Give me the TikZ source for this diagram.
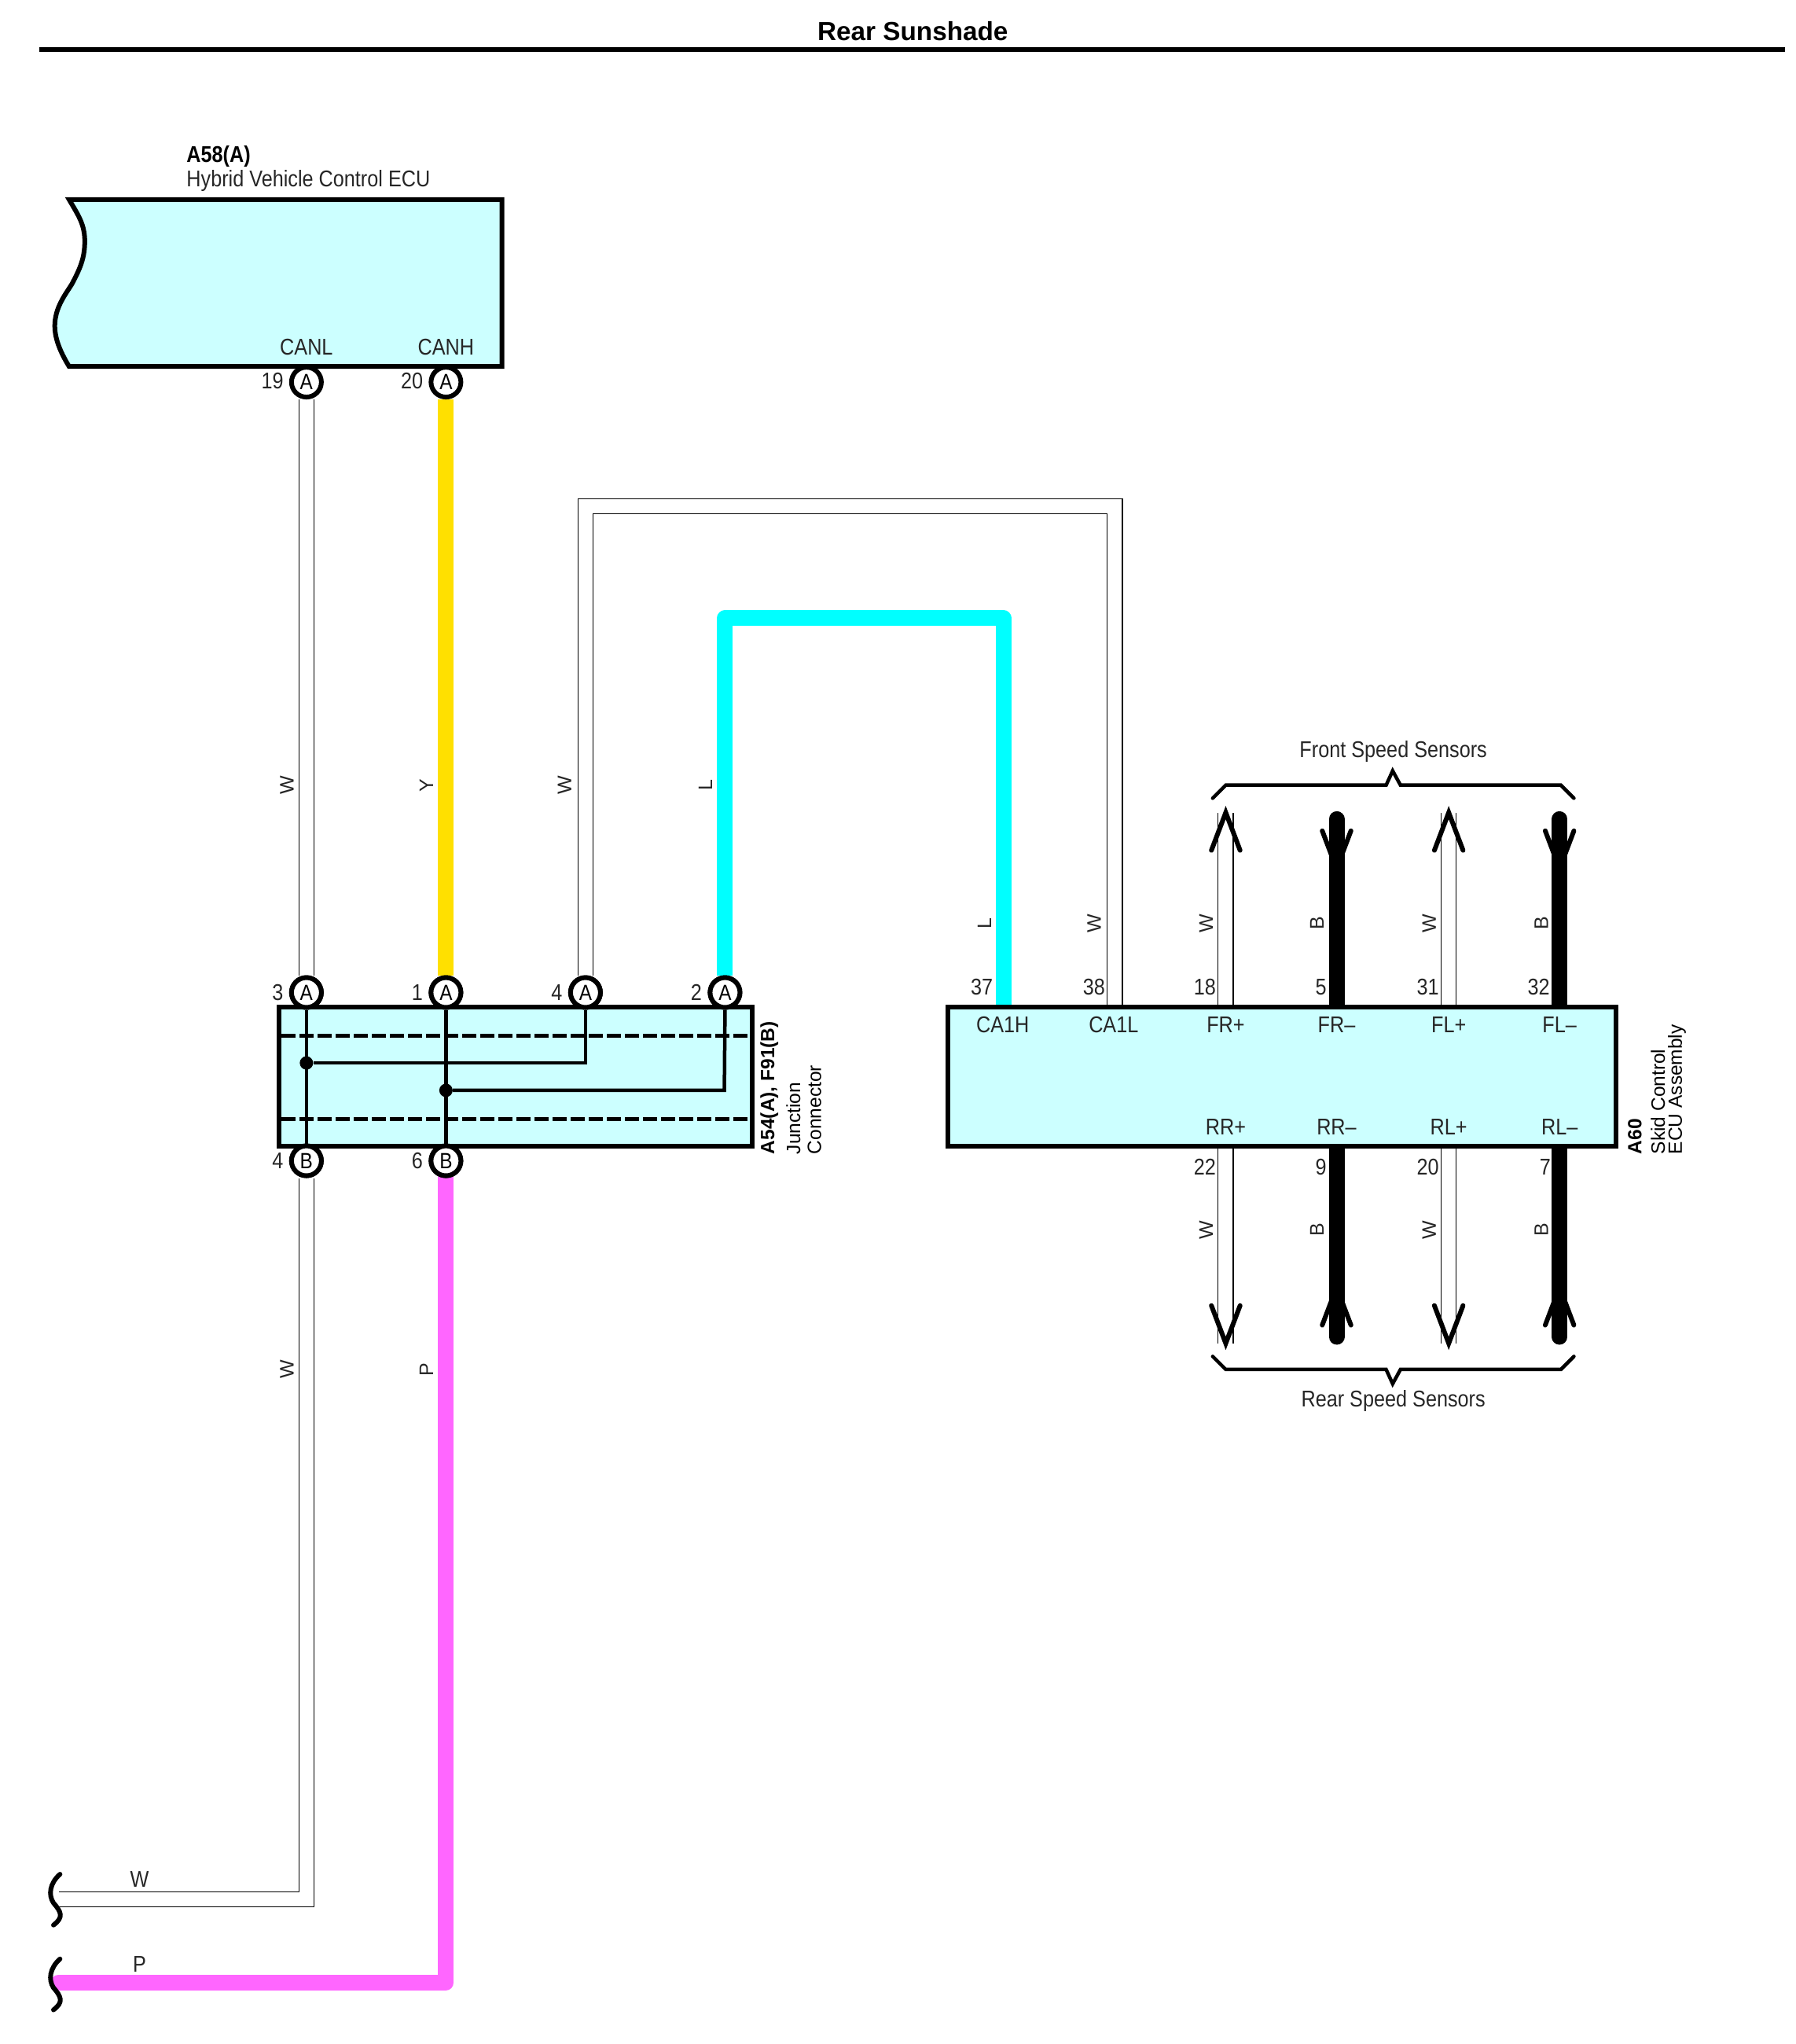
\documentclass[tikz,border=0pt]{standalone}
\usepackage{fontspec}
\setmainfont{Liberation Sans}
\newfontfamily\nf[FakeStretch=0.87]{Liberation Sans}
\usetikzlibrary{fit}
\definecolor{boxfill}{HTML}{CCFFFF}
\definecolor{wy}{HTML}{FFE000}
\definecolor{wl}{HTML}{00FFFF}
\definecolor{wp}{HTML}{FF66FF}
\pgfdeclarelayer{wires}
\pgfsetlayers{wires,main}
\tikzset{
  lbl/.style={font=\nf\fontsize{29}{32}\selectfont,inner sep=0pt,text=black!85},
  lblb/.style={font=\nf\bfseries\fontsize{29}{32}\selectfont,inner sep=0pt},
  rot/.style={font=\fontsize{24.5}{26}\selectfont,inner sep=0pt,rotate=90,anchor=south west},
  rotb/.style={font=\bfseries\fontsize{24.5}{26}\selectfont,inner sep=0pt,rotate=90,anchor=south west},
  wl90/.style={font=\fontsize{25}{27}\selectfont,inner sep=0pt,rotate=90,text=black!85},
  pin/.style={circle,draw=black,fill=white,line width=6pt,minimum size=38pt,inner sep=0pt,font=\nf\fontsize{28}{30}\selectfont},
  compbox/.style={draw=black,fill=boxfill,line width=6pt,inner sep=0pt},
  whitewire/.style={draw=black,double=white,double distance=18pt,line width=1.1pt},
  fatwire/.style={line width=20pt,line join=round},
  blackwire/.style={line width=20pt,draw=black,line cap=round},
  chev/.style={line width=6pt,draw=black,line cap=round,line join=miter},
  brace/.style={line width=4.5pt,draw=black,line cap=round},
  inner/.style={line width=4.5pt,draw=black},
  dashline/.style={line width=4.5pt,draw=black,dash pattern=on 18pt off 5pt},
  dot/.style={circle,fill=black,minimum size=17pt,inner sep=0pt},
  squig/.style={line width=6pt,draw=black,line cap=round},
}
\begin{document}
\begin{tikzpicture}[x=1.659pt,y=-1.659pt]
\useasboundingbox (0,0) rectangle (1377.3,1567.2);
% title
\node[font=\bfseries\fontsize{33.3}{35}\selectfont,inner sep=0pt] (title) at (700,24) {Rear Sunshade};
\coordinate (ruleL) at (30,38);
\coordinate (ruleR) at (1369,38);
\draw[line width=6pt] (ruleL) -- (ruleR);
% A58
\draw[compbox,line join=miter] (53,153) -- (385,153) -- (385,281) -- (53,281)
  .. controls (45,268) and (42,258) .. (42,250)
  .. controls (42,236) and (50,226) .. (55,218)
  .. controls (62,205) and (65,197) .. (65,185)
  .. controls (65,172) and (60,165) .. (53,153) -- cycle;
\node[lblb,anchor=west] (a58) at (143,120) {A58(A)};
\node[lbl,anchor=west] (a58t) at (143,138.5) {Hybrid Vehicle Control ECU};
\node[lbl] (canl) at (235,266) {CANL};
\node[lbl] (canh) at (342,266) {CANH};
\node[pin] (p19) at (235,293) {A};
\node[pin] (p20) at (342,293) {A};
\node[lbl] (n19) at (209,292) {19};
\node[lbl] (n20) at (316,292) {20};
% A54
\node[compbox,fit={(214,772)(577,879)}] (a54) {};
\draw[dashline] (216,794) -- (575,794);
\draw[dashline] (216,858) -- (575,858);
\node[pin] (p3) at (235,761) {A};
\node[pin] (p1) at (342,761) {A};
\node[pin] (p4a) at (449,761) {A};
\node[pin] (p2) at (556,761) {A};
\node[pin] (p4b) at (235,890) {B};
\node[pin] (p6) at (342,890) {B};
\node[lbl] at (213,761) {3};
\node[lbl] at (320,761) {1};
\node[lbl] at (427,761) {4};
\node[lbl] at (534,761) {2};
\node[lbl] at (213,890) {4};
\node[lbl] at (320,890) {6};
\node[dot] (j1) at (235,815) {};
\node[dot] (j2) at (342,836) {};
\draw[inner] (p3) -- (p4b);
\draw[inner] (p1) -- (p6);
\draw[inner] (j1) -- (449,815) -- (p4a.south);
\draw[inner] (j2) -- (555.5,836) -- (p2.south);
\node[pin] at (p3) {A};
\node[pin] at (p1) {A};
\node[pin] at (p4a) {A};
\node[pin] at (p2) {A};
\node[pin] at (p4b) {B};
\node[pin] at (p6) {B};
\node[rotb] at (597,885) {A54(A), F91(B)};
\node[rot] at (614,885) {Junction};
\node[rot] at (630,885) {Connector};
% A60
\node[compbox,fit={(727,772)(1239,879)}] (a60) {};
\foreach \t/\x in {CA1H/769,CA1L/854,FR+/940,FR–/1025,FL+/1111,FL–/1196}
  \node[lbl] at (\x,786) {\t};
\foreach \t/\x in {RR+/940,RR–/1025,RL+/1111,RL–/1196}
  \node[lbl] at (\x,864) {\t};
\foreach \t/\x in {37/753,38/839,18/924,5/1013,31/1095,32/1180}
  \node[lbl] at (\x,757) {\t};
\foreach \t/\x in {22/924,9/1013,20/1095,7/1185}
  \node[lbl] at (\x,895) {\t};
\node[rotb] at (1259,885) {A60};
\node[rot] at (1277,885) {Skid Control};
\node[rot] at (1293,885) {ECU Assembly};
% attachment points on A60
\foreach \n/\x in {cah/769.5,cal/855,frp/940,frm/1025,flp/1111,flm/1196}
  \coordinate (\n) at (\x,772);
\foreach \n/\x in {rrp/940,rrm/1025,rlp/1111,rlm/1196}
  \coordinate (\n) at (\x,879);
\coordinate (frpe) at (940,623);
\coordinate (frme) at (1025,628);
\coordinate (flpe) at (1111,623);
\coordinate (flme) at (1196,628);
\coordinate (rrpe) at (940,1030);
\coordinate (rrme) at (1025,1025);
\coordinate (rlpe) at (1111,1030);
\coordinate (rlme) at (1196,1025);
\coordinate (wend) at (45,1456.5);
\coordinate (pend) at (45,1520);
% wires
\begin{pgfonlayer}{wires}
\draw[whitewire] (p19) -- (p3);
\draw[fatwire,draw=wy] (p20) -- (p1);
\draw[whitewire] (p4a) -- (449,388) -- (855,388) -- (cal);
\draw[fatwire,draw=wl] (p2) -- (556,474) -- (769.5,474) -- (cah);
\draw[whitewire] (p4b) -- (235,1456.5) -- (wend);
\draw[fatwire,draw=wp,line cap=round] (p6) -- (342,1520) -- (pend);
\draw[whitewire] (frp) -- (frpe);
\draw[whitewire] (flp) -- (flpe);
\draw[whitewire] (rrp) -- (rrpe);
\draw[whitewire] (rlp) -- (rlpe);
\draw[blackwire] (frm) -- (frme);
\draw[blackwire] (flm) -- (flme);
\draw[blackwire] (rrm) -- (rrme);
\draw[blackwire] (rlm) -- (rlme);
\end{pgfonlayer}
% chevrons
\draw[chev] (frpe) ++(-11,29) -- (frpe) -- ++(11,29);
\draw[chev] (flpe) ++(-11,29) -- (flpe) -- ++(11,29);
\draw[chev] (rrpe) ++(-11,-29) -- (rrpe) -- ++(11,-29);
\draw[chev] (rlpe) ++(-11,-29) -- (rlpe) -- ++(11,-29);
\draw[chev] (frme) ++(-11,9) -- ++(11,29) -- ++(11,-29);
\draw[chev] (flme) ++(-11,9) -- ++(11,29) -- ++(11,-29);
\draw[chev] (rrme) ++(-11,-9) -- ++(11,-29) -- ++(11,29);
\draw[chev] (rlme) ++(-11,-9) -- ++(11,-29) -- ++(11,29);
% braces
\draw[brace] (930,612) -- (940,602) -- (1063,602) -- (1068,591) -- (1074,602) -- (1197,602) -- (1207,612);
\draw[brace] (930,1040) -- (940,1050) -- (1063,1050) -- (1068,1061) -- (1074,1050) -- (1197,1050) -- (1207,1040);
\node[lbl] at (1068.5,576) {Front Speed Sensors};
\node[lbl] at (1068.5,1074) {Rear Speed Sensors};
% squiggles
\draw[squig] (46,1437) .. controls (38,1444) and (37,1453) .. (41,1459) .. controls (47,1466) and (49,1470) .. (41,1476);
\draw[squig] (46,1502) .. controls (38,1509) and (37,1518) .. (41,1524) .. controls (47,1531) and (49,1535) .. (41,1541);
% wire colour labels
\foreach \t/\x/\y in {W/220/602,Y/327/602,W/433/602,L/541/602,W/220/1050,P/327/1050,L/755/708,W/839/708,W/925/708,B/1010/708,W/1096/708,B/1182/708,W/925/943,B/1010/943,W/1096/943,B/1182/943}
  \node[wl90] at (\x,\y) {\t};
\node[lbl] at (107,1441) {W};
\node[lbl] at (107,1506) {P};
\end{tikzpicture}
\end{document}
